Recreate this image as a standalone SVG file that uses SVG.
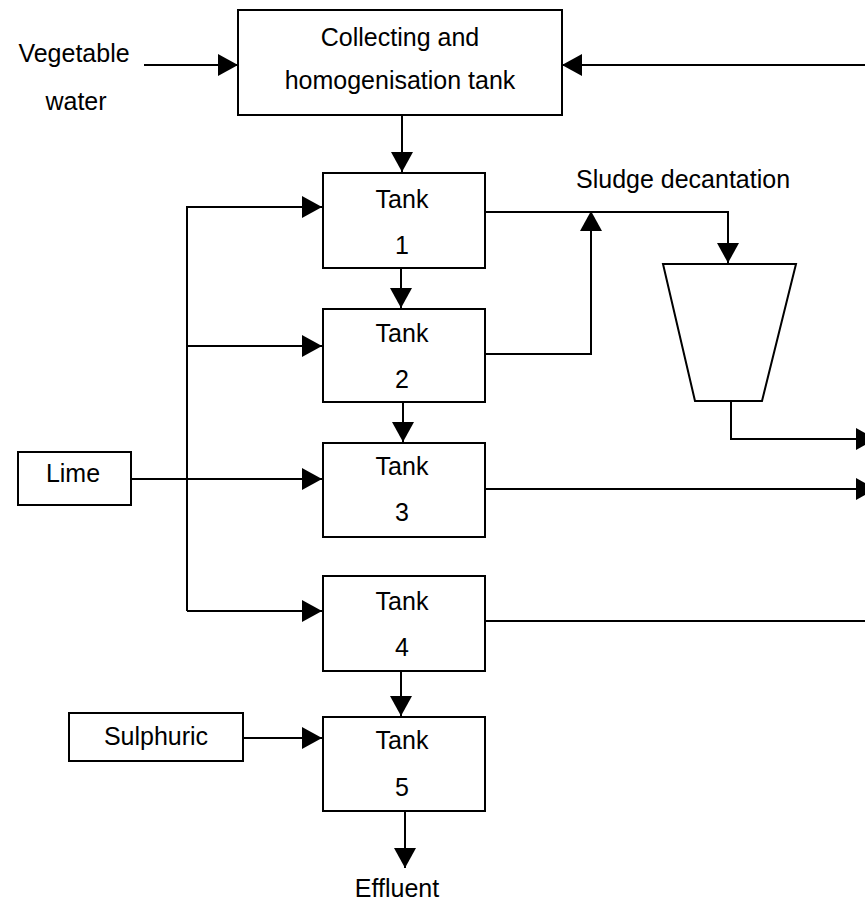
<svg xmlns="http://www.w3.org/2000/svg" width="865" height="903" viewBox="0 0 865 903">
<defs>
<marker id="ah" markerUnits="userSpaceOnUse" markerWidth="20" markerHeight="22" viewBox="0 0 20 22" refX="20" refY="11" orient="auto">
<path d="M0,0 L20,11 L0,22 Z" fill="#000"/>
</marker>
<style>
.box{fill:#fff;stroke:#000;stroke-width:2}
.ln{fill:none;stroke:#000;stroke-width:2}
.arr{fill:none;stroke:#000;stroke-width:2;marker-end:url(#ah)}
text{font-family:"Liberation Sans",Arial,sans-serif;font-size:25px;fill:#000;text-anchor:middle}
</style>
</defs>
<rect width="865" height="903" fill="#fff"/>
<g id="connectors">
<line class="arr" x1="144" y1="65" x2="238" y2="65"/>
<line class="arr" x1="866" y1="65" x2="562" y2="65"/>
<line class="arr" x1="402" y1="115" x2="402" y2="172"/>
<line class="arr" x1="401" y1="268" x2="401" y2="308"/>
<line class="arr" x1="403" y1="402" x2="403" y2="442"/>
<line class="arr" x1="401" y1="671" x2="401" y2="716"/>
<line class="arr" x1="405" y1="806" x2="405" y2="868"/>
<polyline class="ln" points="322,207 187,207 187,611"/>
<line class="arr" x1="187" y1="207" x2="322" y2="207"/>
<line class="arr" x1="187" y1="346" x2="322" y2="346"/>
<line class="arr" x1="187" y1="611" x2="322" y2="611"/>
<line class="arr" x1="131" y1="479" x2="322" y2="479"/>
<line class="arr" x1="243" y1="738" x2="322" y2="738"/>
<polyline class="arr" points="485,212 728,212 728,263"/>
<polyline class="arr" points="480,354 591,354 591,211"/>
<polyline class="arr" points="731,401 731,439 876,439"/>
<line class="arr" x1="483" y1="489" x2="876" y2="489"/>
<line class="ln" x1="485" y1="621" x2="866" y2="621"/>
</g>
<g id="vegetable-water">
<text x="74" y="62">Vegetable</text>
<text x="76" y="110">water</text>
</g>
<g id="collecting-tank">
<rect class="box" x="238" y="10" width="324" height="105"/>
<text x="400" y="46">Collecting and</text>
<text x="400" y="89">homogenisation tank</text>
</g>
<g id="tank1">
<rect class="box" x="323" y="173" width="162" height="95"/>
<text x="402" y="208">Tank</text>
<text x="402" y="254">1</text>
</g>
<g id="tank2">
<rect class="box" x="323" y="309" width="162" height="93"/>
<text x="402" y="342">Tank</text>
<text x="402" y="388">2</text>
</g>
<g id="tank3">
<rect class="box" x="323" y="443" width="162" height="94"/>
<text x="402" y="475">Tank</text>
<text x="402" y="521">3</text>
</g>
<g id="tank4">
<rect class="box" x="323" y="576" width="162" height="95"/>
<text x="402" y="610">Tank</text>
<text x="402" y="656">4</text>
</g>
<g id="tank5">
<rect class="box" x="323" y="717" width="162" height="94"/>
<text x="402" y="749">Tank</text>
<text x="402" y="796">5</text>
</g>
<g id="lime">
<rect class="box" x="18" y="452" width="113" height="53"/>
<text x="73" y="482">Lime</text>
</g>
<g id="sulphuric">
<rect class="box" x="69" y="713" width="174" height="48"/>
<text x="156" y="745">Sulphuric</text>
</g>
<g id="decanter">
<polygon class="box" points="663,264 796,264 762,401 695,401"/>
<text x="576" y="188" style="text-anchor:start">Sludge decantation</text>
</g>
<g id="effluent">
<text x="397" y="897">Effluent</text>
</g>
</svg>
